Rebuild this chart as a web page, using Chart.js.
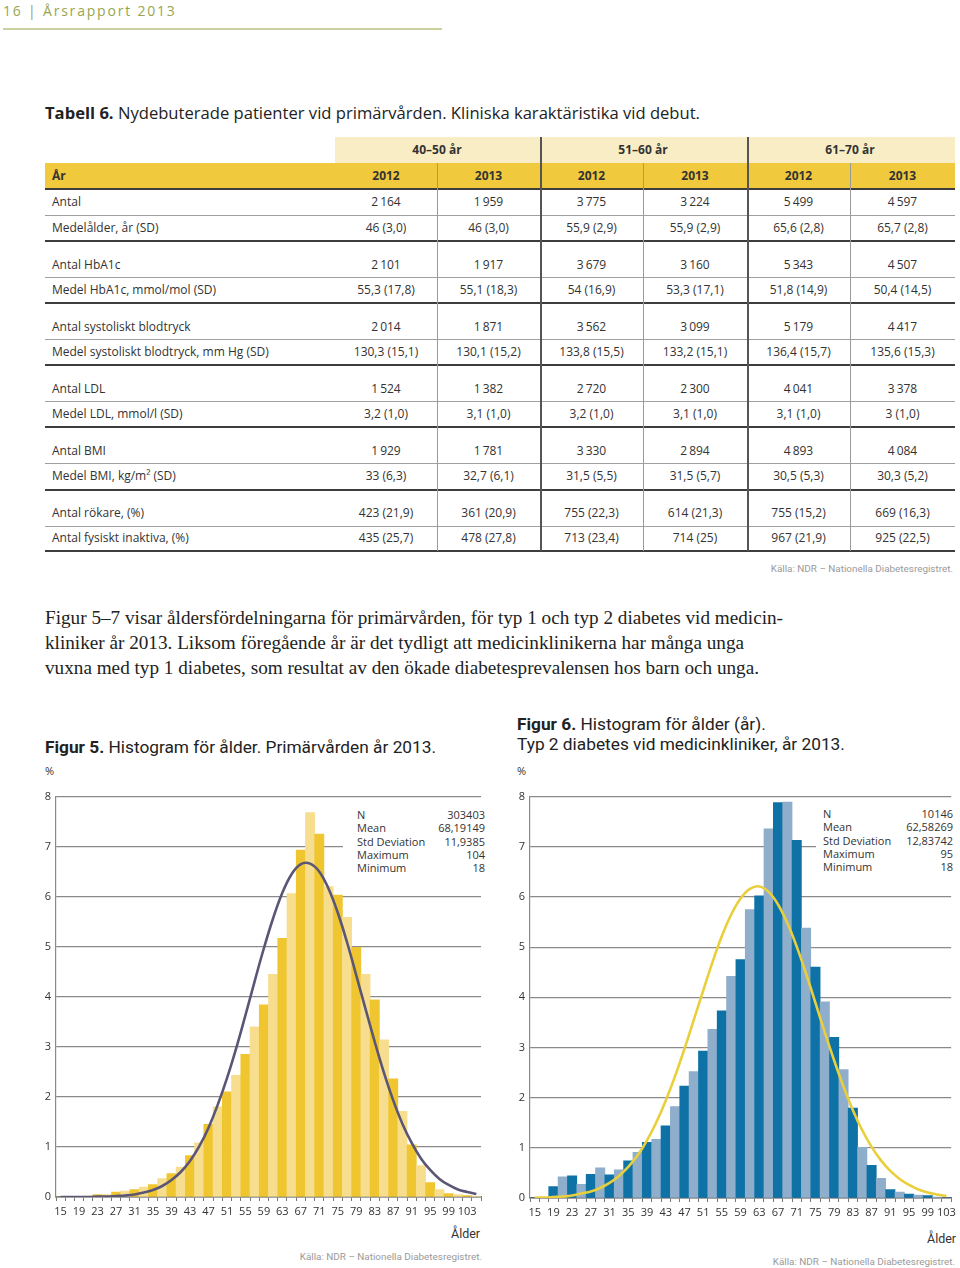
<!DOCTYPE html>
<html lang="sv">
<head>
<meta charset="utf-8">
<script src="https://cdn.jsdelivr.net/npm/chart.js@4.4.1/dist/chart.umd.min.js"></script>
<style>
  html,body{margin:0;padding:0;background:#fff;}
  body{width:960px;height:1268px;position:relative;overflow:hidden;font-family:"Open Sans",sans-serif;color:#333;}
  .abs{position:absolute;white-space:nowrap;}
  .cell{position:absolute;white-space:nowrap;font-size:12px;line-height:16px;transform:translateY(-50%);}
  .c{text-align:center;transform:translate(-50%,-50%);}
  .hl{position:absolute;}
  .stat{position:absolute;background:#fff;font-size:11px;line-height:13.3px;color:#333;}
  .stat div{display:flex;justify-content:space-between;}
  .kalla{position:absolute;white-space:nowrap;font-family:Roboto,sans-serif;font-size:9.9px;color:#9a9a9a;transform:translate(-100%,-50%);}
</style>
</head>
<body>
<div class="abs" style="left:3px;top:1px;font-size:14px;letter-spacing:1.8px;color:#98a64e;">16 | Årsrapport 2013</div>
<div class="hl" style="left:3px;top:28px;width:439px;height:1.5px;background:#cbd09e;"></div>

<div class="abs" style="left:45px;top:101px;font-size:16.6px;color:#222;"><b>Tabell 6.</b> Nydebuterade patienter vid primärvården. Kliniska karaktäristika vid debut.</div>

<div id="table"></div>
<div class="kalla" style="left:953px;top:568px;">Källa: NDR – Nationella Diabetesregistret.</div>

<div class="abs" style="left:45px;top:605px;font-family:'Liberation Serif',serif;font-size:19.2px;line-height:25px;color:#222;">Figur 5–7 visar åldersfördelningarna för primärvården, för typ 1 och typ 2 diabetes vid medicin-<br>kliniker år 2013. Liksom föregående år är det tydligt att medicinklinikerna har många unga<br>vuxna med typ 1 diabetes, som resultat av den ökade diabetesprevalensen hos barn och unga.</div>

<div class="abs" style="left:45px;top:737px;font-family:Roboto,sans-serif;font-size:17.3px;color:#222;"><b>Figur 5.</b> Histogram för ålder. Primärvården år 2013.</div>
<div class="abs" style="left:517px;top:715px;font-family:Roboto,sans-serif;font-size:17.3px;line-height:19.5px;color:#222;"><b>Figur 6.</b> Histogram för ålder (år).<br>Typ 2 diabetes vid medicinkliniker, år 2013.</div>
<div class="abs" style="left:45px;top:763px;font-size:11px;">%</div>
<div class="abs" style="left:517px;top:763px;font-size:11px;">%</div>

<canvas id="c1" width="460" height="440" style="position:absolute;left:30px;top:785px;"></canvas>
<canvas id="c2" width="460" height="440" style="position:absolute;left:500px;top:785px;"></canvas>

<div class="stat" style="left:343px;top:802px;width:128px;height:86px;padding:6px 9px 0 14px;">
  <div><span>N</span><span>303403</span></div>
  <div><span>Mean</span><span>68,19149</span></div>
  <div><span>Std Deviation</span><span>11,9385</span></div>
  <div><span>Maximum</span><span>104</span></div>
  <div><span>Minimum</span><span>18</span></div>
</div>
<div class="stat" style="left:816px;top:801px;width:130px;height:86px;padding:6px 7px 0 7px;">
  <div><span>N</span><span>10146</span></div>
  <div><span>Mean</span><span>62,58269</span></div>
  <div><span>Std Deviation</span><span>12,83742</span></div>
  <div><span>Maximum</span><span>95</span></div>
  <div><span>Minimum</span><span>18</span></div>
</div>

<div class="abs" style="left:451px;top:1226px;font-family:Roboto,sans-serif;font-size:12.5px;">Ålder</div>
<div class="abs" style="left:927px;top:1231px;font-family:Roboto,sans-serif;font-size:12.5px;">Ålder</div>
<div class="kalla" style="left:482px;top:1256px;">Källa: NDR – Nationella Diabetesregistret.</div>
<div class="kalla" style="left:955px;top:1261px;">Källa: NDR – Nationella Diabetesregistret.</div>

<script>
// ---------- Table data ----------
const ageGroups = ["40–50 år", "51–60 år", "61–70 år"];
const years = ["2012", "2013", "2012", "2013", "2012", "2013"];
const rowLabels = ["Antal","Medelålder, år (SD)","Antal HbA1c","Medel HbA1c, mmol/mol (SD)","Antal systoliskt blodtryck","Medel systoliskt blodtryck, mm Hg (SD)","Antal LDL","Medel LDL, mmol/l (SD)","Antal BMI","Medel BMI, kg/m² (SD)","Antal rökare, (%)","Antal fysiskt inaktiva, (%)"];
const age4050_2012 = ["2\u2009164","46 (3,0)","2\u2009101","55,3 (17,8)","2\u2009014","130,3 (15,1)","1\u2009524","3,2 (1,0)","1\u2009929","33 (6,3)","423 (21,9)","435 (25,7)"];
const age4050_2013 = ["1\u2009959","46 (3,0)","1\u2009917","55,1 (18,3)","1\u2009871","130,1 (15,2)","1\u2009382","3,1 (1,0)","1\u2009781","32,7 (6,1)","361 (20,9)","478 (27,8)"];
const age5160_2012 = ["3\u2009775","55,9 (2,9)","3\u2009679","54 (16,9)","3\u2009562","133,8 (15,5)","2\u2009720","3,2 (1,0)","3\u2009330","31,5 (5,5)","755 (22,3)","713 (23,4)"];
const age5160_2013 = ["3\u2009224","55,9 (2,9)","3\u2009160","53,3 (17,1)","3\u2009099","133,2 (15,1)","2\u2009300","3,1 (1,0)","2\u2009894","31,5 (5,7)","614 (21,3)","714 (25)"];
const age6170_2012 = ["5\u2009499","65,6 (2,8)","5\u2009343","51,8 (14,9)","5\u2009179","136,4 (15,7)","4\u2009041","3,1 (1,0)","4\u2009893","30,5 (5,3)","755 (15,2)","967 (21,9)"];
const age6170_2013 = ["4\u2009597","65,7 (2,8)","4\u2009507","50,4 (14,5)","4\u2009417","135,6 (15,3)","3\u2009378","3 (1,0)","4\u2009084","30,3 (5,2)","669 (16,3)","925 (22,5)"];

// ---------- Histogram data (Figur 5, primärvården) ----------
const ages1 = ["15","17","19","21","23","25","27","29","31","33","35","37","39","41","43","45","47","49","51","53","55","57","59","61","63","65","67","69","71","73","75","77","79","81","83","85","87","89","91","93","95","97","99","101","103","105"];
const pct1 = [0,0,0.01,0.02,0.05,0.05,0.1,0.12,0.15,0.2,0.25,0.37,0.47,0.6,0.83,1.08,1.45,1.8,2.1,2.43,2.85,3.4,3.84,4.45,5.17,6.06,6.93,7.68,7.25,6.2,6.03,5.59,4.99,4.45,3.94,3.14,2.36,1.71,1.04,0.63,0.29,0.15,0.07,0.05,0.03,0.01];
const curve1 = [0,0,0,0,0.01,0.01,0.02,0.03,0.05,0.09,0.14,0.22,0.34,0.5,0.72,1.01,1.38,1.84,2.37,2.97,3.63,4.31,4.97,5.57,6.08,6.45,6.65,6.66,6.5,6.16,5.68,5.09,4.43,3.76,3.1,2.48,1.93,1.46,1.08,0.77,0.54,0.36,0.24,0.15,0.1,0.06];

// ---------- Histogram data (Figur 6, typ 2 medicinkliniker) ----------
const ages2 = ["15","17","19","21","23","25","27","29","31","33","35","37","39","41","43","45","47","49","51","53","55","57","59","61","63","65","67","69","71","73","75","77","79","81","83","85","87","89","91","93","95","97","99","101","103"];
const pct2 = [0,0,0.23,0.42,0.44,0.27,0.47,0.6,0.46,0.56,0.74,0.91,1.11,1.17,1.44,1.82,2.23,2.52,2.93,3.36,3.73,4.42,4.75,5.75,6.02,7.36,7.88,7.89,7.13,5.38,4.6,3.91,3.2,2.56,1.79,1.01,0.65,0.39,0.17,0.12,0.08,0.06,0.05,0.02,0];
const curve2 = [0.01,0.01,0.02,0.03,0.05,0.09,0.13,0.2,0.3,0.44,0.62,0.85,1.15,1.51,1.94,2.43,2.97,3.55,4.13,4.7,5.22,5.65,5.97,6.16,6.21,6.1,5.85,5.48,5.01,4.47,3.89,3.3,2.74,2.22,1.75,1.35,1.02,0.75,0.54,0.38,0.26,0.17,0.11,0.07,0.04];

const yTicks = [0,1,2,3,4,5,6,7,8];

// ---------- Build table ----------
(function(){
  const t = document.getElementById('table');
  const add = (html) => t.insertAdjacentHTML('beforeend', html);
  const colX = [335,437,540,643,747,850,955];
  const cols = [age4050_2012, age4050_2013, age5160_2012, age5160_2013, age6170_2012, age6170_2013];
  add(`<div class="hl" style="left:335px;top:137px;width:620px;height:26px;background:#f9edc6;"></div>`);
  add(`<div class="hl" style="left:45px;top:163px;width:910px;height:26px;background:#f0c93c;"></div>`);
  ageGroups.forEach((g,i)=>{
    const cx = colX[i*2+1];
    add(`<div class="cell c" style="left:${cx}px;top:150px;font-weight:bold;">${g}</div>`);
  });
  add(`<div class="cell" style="left:52px;top:176px;font-weight:bold;">År</div>`);
  years.forEach((y,i)=>{
    const cx = (colX[i]+colX[i+1])/2;
    add(`<div class="cell c" style="left:${cx}px;top:176px;font-weight:bold;">${y}</div>`);
  });
  const rowY = [202,228,265,290,327,352,389,414,451,476,513,538];
  rowLabels.forEach((lab,r)=>{
    add(`<div class="cell" style="left:52px;top:${rowY[r]}px;">${lab}</div>`);
    cols.forEach((col,i)=>{
      const cx = (colX[i]+colX[i+1])/2;
      add(`<div class="cell c" style="left:${cx}px;top:${rowY[r]}px;">${col[r]}</div>`);
    });
  });
  add(`<div class="hl" style="left:45px;top:188px;width:910px;height:2px;background:#3d3d3d;"></div>`);
  [215,277,339,401,463,526].forEach(y=>add(`<div class="hl" style="left:45px;top:${y}px;width:910px;height:1px;background:#a0a0a0;"></div>`));
  [240,302,364,426,489,550].forEach(y=>add(`<div class="hl" style="left:45px;top:${y}px;width:910px;height:2px;background:#3d3d3d;"></div>`));
  [540,747].forEach(x=>add(`<div class="hl" style="left:${x}px;top:137px;width:1.5px;height:414px;background:#555;"></div>`));
  [437,643,850].forEach(x=>add(`<div class="hl" style="left:${x}px;top:163px;width:1px;height:388px;background:#9a9a9a;"></div>`));
})();

// ---------- Charts ----------
function makeChart(id, labels, values, curve, dark, light, curveColor, yW, xH, padR, padT){
  const ctx = document.getElementById(id).getContext('2d');
  return new Chart(ctx, {
    type: 'bar',
    data: {
      labels: labels,
      datasets: [
        {type:'line', data: curve, borderColor: curveColor, borderWidth: 2.6, pointRadius: 0, tension: 0.4, fill: false, order: 0},
        {type:'bar', data: values, backgroundColor: values.map((v,i)=> i%2===0 ? dark : light), borderWidth: 0, categoryPercentage: 1, barPercentage: 1, order: 1}
      ]
    },
    options: {
      responsive: false, animation: false, devicePixelRatio: 1,
      layout: {padding: {top: padT, right: padR, left: 0, bottom: 0}},
      plugins: {legend: {display: false}, tooltip: {enabled: false}},
      scales: {
        x: {
          offset: true,
          grid: {display: true, drawOnChartArea: false, drawTicks: true, tickLength: 4, color: '#777', offset: true},
          border: {display: true, color: '#666', width: 1.5},
          ticks: {autoSkip: false, maxRotation: 0, minRotation: 0, padding: 4, color: '#333',
                  font: {family: 'Open Sans', size: 11},
                  callback: (v,i) => i%2===0 ? labels[i] : ''},
          afterFit: s => { s.height = xH; }
        },
        y: {
          min: 0, max: 8,
          afterBuildTicks: s => { s.ticks = yTicks.map(v => ({value: v})); },
          grid: {color: '#8a8a8a', lineWidth: 1.2, drawTicks: false},
          border: {display: true, color: '#8a8a8a', width: 1.2},
          ticks: {padding: 5, color: '#333', font: {family: 'Open Sans', size: 11}},
          afterFit: s => { s.width = yW; }
        }
      }
    }
  });
}
makeChart('c1', ages1, pct1, curve1, '#f0c630', '#f7de8f', '#5b5676', 26, 28, 9, 11);
makeChart('c2', ages2, pct2, curve2, '#0f72a6', '#8eaecb', '#e9cf3c', 30, 27, 8, 11);
</script>
</body>
</html>
